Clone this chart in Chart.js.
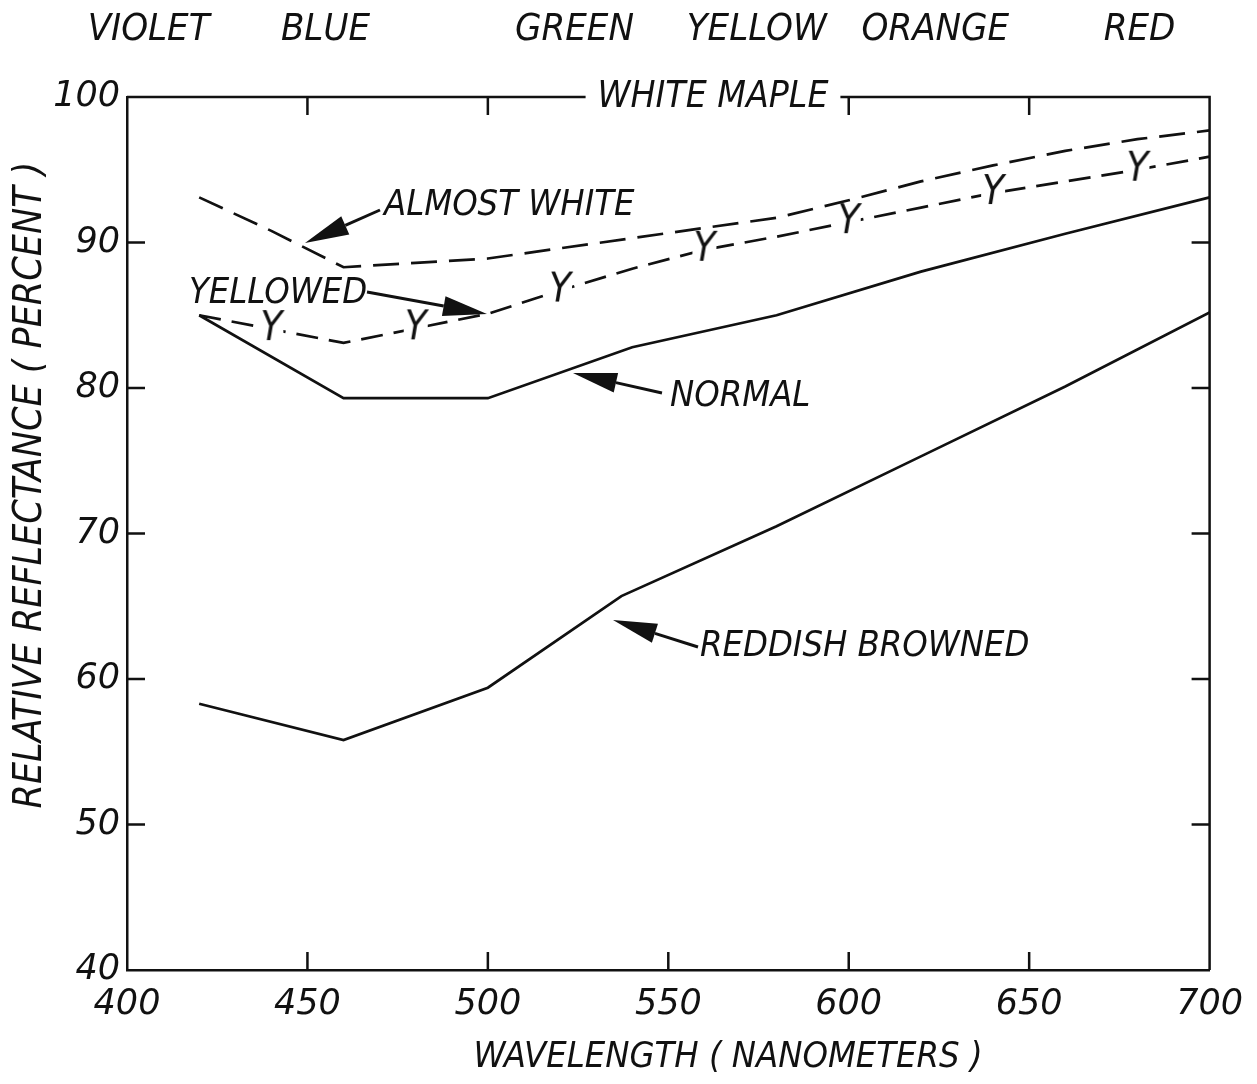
<!DOCTYPE html>
<html><head><meta charset="utf-8">
<script src="https://cdn.jsdelivr.net/npm/chart.js@4.4.1/dist/chart.umd.min.js"></script>
<style>html,body{margin:0;padding:0;background:#fff}#wrap{width:1257px;height:1084px}</style>
</head><body><div id="wrap"><canvas id="c" width="1257" height="1084"></canvas></div>
<script>
// ---- data ----
const xTickValues = [400, 450, 500, 550, 600, 650, 700];
const yTickValues = [40, 50, 60, 70, 80, 90, 100];
const normalNm  = [420, 460, 500, 540, 580, 620, 660, 700];
const normalVal = [85.0, 79.3, 79.3, 82.8, 85.0, 88.0, 90.6, 93.1];
const reddishNm  = [420, 460, 500, 537, 580, 620, 660, 700];
const reddishVal = [58.3, 55.8, 59.4, 65.7, 70.5, 75.3, 80.1, 85.2];
const stepNm = [420, 440, 460, 480, 500, 520, 540, 560, 580, 600, 620, 640, 660, 680, 700];
const almostWhiteVal = [93.1, 90.8, 88.3, 88.6, 88.9, 89.6, 90.3, 91.0, 91.7, 92.9, 94.2, 95.3, 96.3, 97.1, 97.7];
const yellowedVal    = [85.0, 84.05, 83.1, 84.1, 85.1, 86.7, 88.2, 89.5, 90.4, 91.4, 92.4, 93.4, 94.2, 95.0, 95.9];
const yMarkerNm = [440, 480, 520, 560, 600, 640, 680];
const bandNames = ['VIOLET', 'BLUE', 'GREEN', 'YELLOW', 'ORANGE', 'RED'];
const bandNm    = [406, 455, 524, 574.5, 624, 680.6];
const chartTitle = 'WHITE MAPLE';
const yTitle = 'RELATIVE REFLECTANCE ( PERCENT )';
const xTitle = 'WAVELENGTH ( NANOMETERS )';

const INK = '#111';
const FAM = "'Liberation Sans Narrow', 'DejaVu Sans Condensed', 'Liberation Sans', sans-serif";
const NUMFONT = "'DejaVu Sans', sans-serif";

function pts(xs, ys) { return xs.map((x, i) => ({x: x, y: ys[i]})); }

// Y marker image
const yImg = document.createElement('canvas');
yImg.width = 34; yImg.height = 44;
(function () {
  const g = yImg.getContext('2d');
  g.fillStyle = '#fff';
  g.fillRect(5, 14, 24, 16);
  g.fillStyle = INK;
  g.font = "italic 40px " + FAM;
  g.textAlign = 'center'; g.textBaseline = 'middle';
  g.fillText('Y', 17, 23);
})();

function drawArrow(ctx, x1, y1, x2, y2) {
  const a = Math.atan2(y2 - y1, x2 - x1);
  const hl = 44, hw = 10;
  const bx = x2 - hl * Math.cos(a), by = y2 - hl * Math.sin(a);
  ctx.beginPath(); ctx.moveTo(x1, y1); ctx.lineTo(bx, by); ctx.stroke();
  ctx.beginPath();
  ctx.moveTo(x2, y2);
  ctx.lineTo(bx + hw * Math.sin(a), by - hw * Math.cos(a));
  ctx.lineTo(bx - hw * Math.sin(a), by + hw * Math.cos(a));
  ctx.closePath(); ctx.fill();
}

const framePlugin = {
  id: 'frame',
  afterDatasetsDraw(chart) {
    const ctx = chart.ctx, a = chart.chartArea;
    const xs = chart.scales.x, ys = chart.scales.y;
    ctx.save();
    ctx.strokeStyle = INK; ctx.fillStyle = INK; ctx.lineWidth = 2.5; ctx.lineCap = 'butt';
    // title in top border
    ctx.font = "italic 37px " + FAM;
    const tw = ctx.measureText(chartTitle).width;
    const tc = 713;
    const g1 = tc - tw / 2 - 12, g2 = tc + tw / 2 + 12;
    ctx.beginPath();
    ctx.moveTo(a.left, a.top); ctx.lineTo(g1, a.top);
    ctx.moveTo(g2, a.top); ctx.lineTo(a.right, a.top); ctx.lineTo(a.right, a.bottom);
    ctx.stroke();
    ctx.textAlign = 'center'; ctx.textBaseline = 'middle';
    ctx.fillText(chartTitle, tc, a.top);
    // inner ticks
    const TL = 18;
    ctx.beginPath();
    xTickValues.forEach(v => {
      if (v === xs.min || v === xs.max) return;
      const px = xs.getPixelForValue(v);
      ctx.moveTo(px, a.bottom); ctx.lineTo(px, a.bottom - TL);
      if (px < g1 || px > g2) { ctx.moveTo(px, a.top); ctx.lineTo(px, a.top + TL); }
    });
    yTickValues.forEach(v => {
      if (v === ys.min || v === ys.max) return;
      const py = ys.getPixelForValue(v);
      ctx.moveTo(a.left, py); ctx.lineTo(a.left + TL, py);
      ctx.moveTo(a.right, py); ctx.lineTo(a.right - TL, py);
    });
    ctx.stroke();
    // band names
    ctx.font = "italic 38px " + FAM;
    bandNames.forEach((n, i) => ctx.fillText(n, xs.getPixelForValue(bandNm[i]), 30));
    // axis titles
    ctx.font = "italic 36px " + FAM;
    ctx.fillText(xTitle, 728, 1058);
    ctx.save();
    ctx.translate(31, 485); ctx.rotate(-Math.PI / 2);
    ctx.font = "italic 39px " + FAM;
    ctx.fillText(yTitle, 0, 0);
    ctx.restore();
    // annotations
    ctx.font = "italic 36px " + FAM;
    ctx.textAlign = 'left';
    ctx.fillText('ALMOST WHITE', 384, 206);
    ctx.fillText('YELLOWED', 189, 294);
    ctx.fillText('NORMAL', 670, 397);
    ctx.fillText('REDDISH BROWNED', 700, 647);
    ctx.lineWidth = 3;
    drawArrow(ctx, 380, 210, 305, 243);
    drawArrow(ctx, 367, 292, 487, 314);
    drawArrow(ctx, 662, 393, 573, 373);
    drawArrow(ctx, 698, 647, 613, 620);
    ctx.restore();
  }
};

const lineBase = {borderColor: INK, borderWidth: 2.7, pointRadius: 0, tension: 0, fill: false};

new Chart(document.getElementById('c'), {
  type: 'line',
  data: {
    datasets: [
      Object.assign({label: 'NORMAL', data: pts(normalNm, normalVal)}, lineBase),
      Object.assign({label: 'REDDISH BROWNED', data: pts(reddishNm, reddishVal)}, lineBase),
      Object.assign({label: 'ALMOST WHITE', data: pts(stepNm, almostWhiteVal), borderDash: [26, 12]}, lineBase),
      Object.assign({}, lineBase, {
        label: 'YELLOWED', data: pts(stepNm, yellowedVal), borderDash: [22, 11],
        pointRadius: c => yMarkerNm.includes(stepNm[c.dataIndex]) ? 10 : 0,
        pointStyle: c => yMarkerNm.includes(stepNm[c.dataIndex]) ? yImg : false
      })
    ]
  },
  options: {
    responsive: false, animation: false, devicePixelRatio: 1, events: [],
    layout: {padding: {top: 97, right: 47, left: 0, bottom: 0}},
    plugins: {legend: {display: false}, tooltip: {enabled: false}},
    scales: {
      x: {
        type: 'linear', min: 400, max: 700,
        afterFit: s => { s.height = 114; },
        afterBuildTicks: s => { s.ticks = xTickValues.map(v => ({value: v})); },
        grid: {drawOnChartArea: false, drawTicks: false},
        border: {display: true, color: INK, width: 2.5},
        ticks: {autoSkip: false, maxRotation: 0, padding: 14, color: INK,
          font: {family: NUMFONT, style: 'italic', size: 35}},
        title: {display: false}
      },
      y: {
        type: 'linear', min: 40, max: 100,
        afterFit: s => { s.width = 127; },
        afterBuildTicks: s => { s.ticks = yTickValues.map(v => ({value: v})); },
        grid: {drawOnChartArea: false, drawTicks: false},
        border: {display: true, color: INK, width: 2.5},
        ticks: {autoSkip: false, padding: 7, color: INK,
          font: {family: NUMFONT, style: 'italic', size: 35}},
        title: {display: false}
      }
    }
  },
  plugins: [framePlugin]
});
</script>
</body></html>
